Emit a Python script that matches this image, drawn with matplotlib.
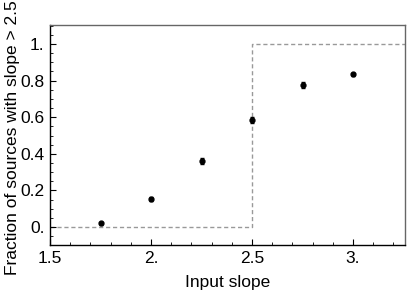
import matplotlib
matplotlib.use("Agg")
import matplotlib.pyplot as plt
from matplotlib.ticker import MultipleLocator, FixedLocator, FixedFormatter

plt.rcParams['font.family'] = ['Liberation Sans', 'DejaVu Sans']

slopes = [1.75, 2.0, 2.25, 2.5, 2.75, 3.0]
fractions = [0.02, 0.152, 0.36, 0.585, 0.775, 0.836]
errors = [0.008, 0.012, 0.018, 0.018, 0.017, 0.008]

step_x = [1.5, 2.5, 2.5, 3.26]
step_y = [0.0, 0.0, 1.0, 1.0]

xticks = [1.5, 2.0, 2.5, 3.0]
xtick_labels = ["1.5", "2.", "2.5", "3."]
yticks = [0.0, 0.2, 0.4, 0.6, 0.8, 1.0]
ytick_labels = ["0.", "0.2", "0.4", "0.6", "0.8", "1."]

fig = plt.figure(figsize=(4.07, 2.94), dpi=100)
ax = fig.add_axes([50/407, 49/294, 355/407, 220/294])

ax.plot(step_x, step_y, color='#999999', linestyle=(0, (3, 2)), linewidth=1.0, zorder=1)
ax.errorbar(slopes, fractions, yerr=errors, fmt='o', color='black', markersize=3.5,
            elinewidth=1.0, capsize=1.5, capthick=1.0, zorder=3)

ax.set_xlim(1.5, 3.257)
ax.set_ylim(-0.098, 1.104)

ax.xaxis.set_major_locator(FixedLocator(xticks))
ax.xaxis.set_major_formatter(FixedFormatter(xtick_labels))
ax.yaxis.set_major_locator(FixedLocator(yticks))
ax.yaxis.set_major_formatter(FixedFormatter(ytick_labels))
ax.xaxis.set_minor_locator(MultipleLocator(0.1))
ax.yaxis.set_minor_locator(MultipleLocator(0.05))

ax.tick_params(which='both', direction='in', top=False, right=False, labelsize=12.5, pad=4)
ax.tick_params(which='major', length=4, width=0.8)
ax.tick_params(which='minor', length=2, width=0.6)

for s in ['left', 'bottom']:
    ax.spines[s].set_color('black')
    ax.spines[s].set_linewidth(1.0)
for s in ['top', 'right']:
    ax.spines[s].set_color('#666666')
    ax.spines[s].set_linewidth(1.0)

ax.set_xlabel("Input slope", fontsize=12.5, labelpad=7)
ax.set_ylabel("Fraction of sources with slope > 2.5", fontsize=12.5)
ax.yaxis.set_label_coords(-0.0845, 0.486)

fig.savefig("out.png", dpi=100)
